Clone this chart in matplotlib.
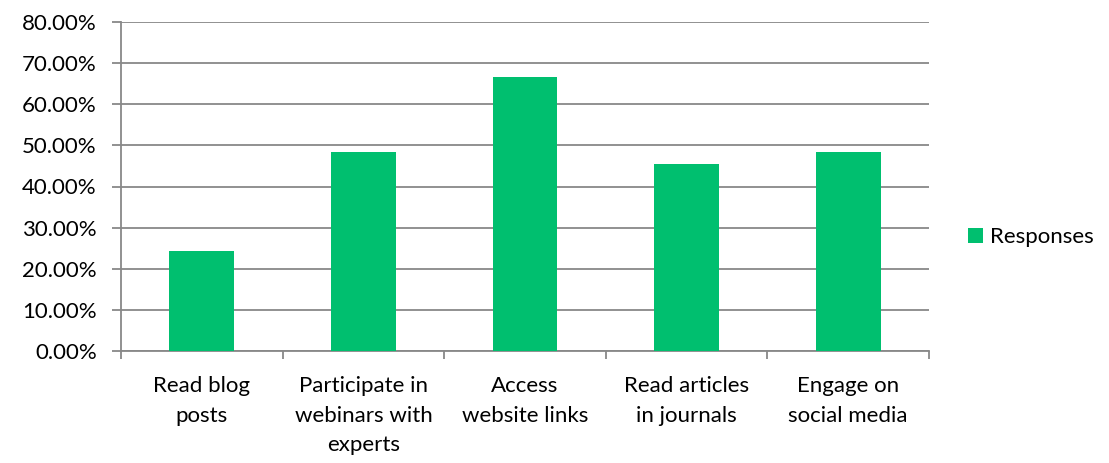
import matplotlib
matplotlib.use("Agg")
import matplotlib.pyplot as plt
from matplotlib.ticker import PercentFormatter, FixedLocator

categories = ["Read blog\nposts", "Participate in\nwebinars with\nexperts", "Access\nwebsite links",
              "Read articles\nin journals", "Engage on\nsocial media"]
responses = [24.24, 48.48, 66.67, 45.45, 48.48]
series_name = "Responses"

plt.rcParams['font.family'] = ['Lato', 'DejaVu Sans']
fig = plt.figure(figsize=(11.09, 4.63), dpi=100)
ax = fig.add_axes([121/1109, 1-351/463, 808/1109, 329/463])

fs = 16
grid_c = "#888888"
x = list(range(len(categories)))
ax.bar(x, responses, width=0.4, color="#00BF6F", label=series_name, zorder=3)
ax.set_xlim(-0.5, len(categories)-0.5)
ax.set_ylim(0, 80)
ax.set_yticks([i*10 for i in range(9)])
ax.yaxis.set_major_formatter(PercentFormatter(decimals=2))
ax.grid(axis='y', color=grid_c, linewidth=1.3, zorder=0)
for s in ['top', 'right']:
    ax.spines[s].set_visible(False)
for s in ['left', 'bottom']:
    ax.spines[s].set_color(grid_c)
    ax.spines[s].set_linewidth(1.3)
ax.set_xticks(x)
ax.set_xticklabels(categories, fontsize=fs, linespacing=1.6, va='top')
ax.tick_params(axis='x', which='major', length=0, pad=18)
ax.xaxis.set_minor_locator(FixedLocator([i-0.5 for i in range(len(categories)+1)]))
ax.tick_params(axis='x', which='minor', length=6, width=1.3, color=grid_c)
ax.tick_params(axis='y', length=6.5, width=1.3, color=grid_c, labelsize=fs, pad=11)

leg = fig.legend(loc='center left', bbox_to_anchor=(948/1109, 1-237/463), frameon=False,
                 fontsize=fs, handlelength=0.68, handleheight=0.68, handletextpad=0.3)
fig.savefig("out.png", dpi=100)
